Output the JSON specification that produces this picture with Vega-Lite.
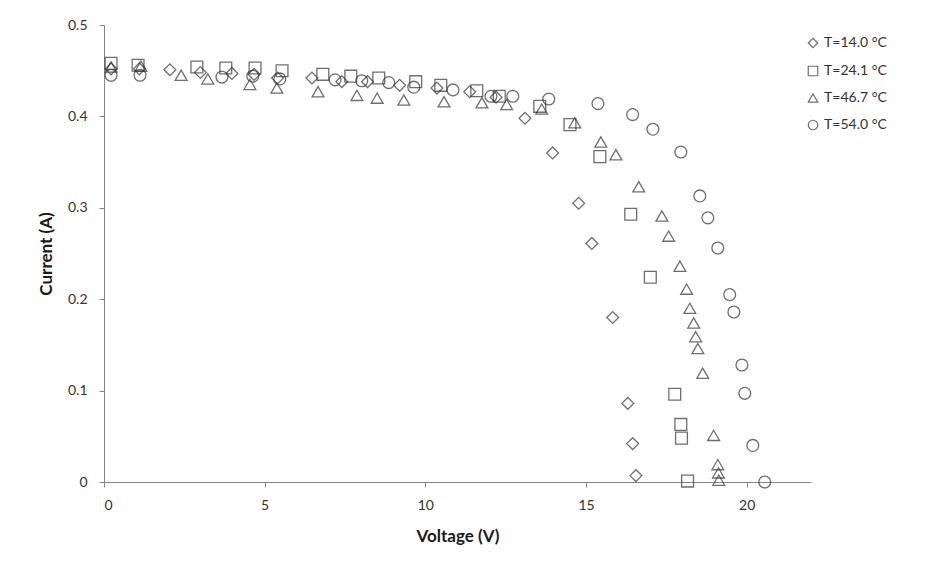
{
  "$schema": "https://vega.github.io/schema/vega-lite/v6.json",
  "width": 707,
  "height": 457,
  "autosize": "none",
  "padding": {"left": 104, "top": 25, "right": 129, "bottom": 89},
  "background": "white",
  "config": {
    "view": {"stroke": null},
    "font": "Lato",
    "axis": {
      "grid": false,
      "domainColor": "#868686",
      "tickColor": "#868686",
      "tickSize": 5,
      "labelFont": "Lato",
      "labelFontSize": 14,
      "labelColor": "#333333",
      "titleFont": "Lato",
      "titleFontSize": 17,
      "titleFontWeight": "bold",
      "titleColor": "#1a1a1a"
    },
    "legend": {
      "labelFont": "Lato",
      "labelFontSize": 14,
      "labelColor": "#333333"
    }
  },
  "data": {
    "values": [
      {"T": "T=14.0 °C", "V": 0.22, "I": 0.452},
      {"T": "T=14.0 °C", "V": 1.1, "I": 0.452},
      {"T": "T=14.0 °C", "V": 2.05, "I": 0.451},
      {"T": "T=14.0 °C", "V": 3.0, "I": 0.448},
      {"T": "T=14.0 °C", "V": 3.98, "I": 0.447},
      {"T": "T=14.0 °C", "V": 4.67, "I": 0.446},
      {"T": "T=14.0 °C", "V": 5.4, "I": 0.442},
      {"T": "T=14.0 °C", "V": 6.47, "I": 0.442},
      {"T": "T=14.0 °C", "V": 7.4, "I": 0.438},
      {"T": "T=14.0 °C", "V": 8.2, "I": 0.438},
      {"T": "T=14.0 °C", "V": 9.2, "I": 0.434},
      {"T": "T=14.0 °C", "V": 10.36, "I": 0.431},
      {"T": "T=14.0 °C", "V": 11.38, "I": 0.427},
      {"T": "T=14.0 °C", "V": 12.2, "I": 0.421},
      {"T": "T=14.0 °C", "V": 13.1, "I": 0.398},
      {"T": "T=14.0 °C", "V": 13.96, "I": 0.36},
      {"T": "T=14.0 °C", "V": 14.77, "I": 0.305},
      {"T": "T=14.0 °C", "V": 15.18, "I": 0.261},
      {"T": "T=14.0 °C", "V": 15.83, "I": 0.18},
      {"T": "T=14.0 °C", "V": 16.3, "I": 0.086},
      {"T": "T=14.0 °C", "V": 16.45, "I": 0.042},
      {"T": "T=14.0 °C", "V": 16.55, "I": 0.007},

      {"T": "T=24.1 °C", "V": 0.22, "I": 0.458},
      {"T": "T=24.1 °C", "V": 1.06, "I": 0.456},
      {"T": "T=24.1 °C", "V": 2.89, "I": 0.454},
      {"T": "T=24.1 °C", "V": 3.79, "I": 0.453},
      {"T": "T=24.1 °C", "V": 4.7, "I": 0.453},
      {"T": "T=24.1 °C", "V": 5.54, "I": 0.45},
      {"T": "T=24.1 °C", "V": 6.81, "I": 0.446},
      {"T": "T=24.1 °C", "V": 7.68, "I": 0.444},
      {"T": "T=24.1 °C", "V": 8.55, "I": 0.442},
      {"T": "T=24.1 °C", "V": 9.7, "I": 0.438},
      {"T": "T=24.1 °C", "V": 10.48, "I": 0.434},
      {"T": "T=24.1 °C", "V": 11.6, "I": 0.428},
      {"T": "T=24.1 °C", "V": 12.3, "I": 0.422},
      {"T": "T=24.1 °C", "V": 13.56, "I": 0.411},
      {"T": "T=24.1 °C", "V": 14.5, "I": 0.391},
      {"T": "T=24.1 °C", "V": 15.43, "I": 0.356},
      {"T": "T=24.1 °C", "V": 16.39, "I": 0.293},
      {"T": "T=24.1 °C", "V": 17.0, "I": 0.224},
      {"T": "T=24.1 °C", "V": 17.76, "I": 0.096},
      {"T": "T=24.1 °C", "V": 17.95, "I": 0.063},
      {"T": "T=24.1 °C", "V": 17.97, "I": 0.048},
      {"T": "T=24.1 °C", "V": 18.16, "I": 0.001},

      {"T": "T=46.7 °C", "V": 0.22, "I": 0.454},
      {"T": "T=46.7 °C", "V": 1.15, "I": 0.455},
      {"T": "T=46.7 °C", "V": 2.4, "I": 0.445},
      {"T": "T=46.7 °C", "V": 3.23, "I": 0.441},
      {"T": "T=46.7 °C", "V": 4.54, "I": 0.435},
      {"T": "T=46.7 °C", "V": 5.38, "I": 0.431},
      {"T": "T=46.7 °C", "V": 6.66, "I": 0.427},
      {"T": "T=46.7 °C", "V": 7.87, "I": 0.423},
      {"T": "T=46.7 °C", "V": 8.5, "I": 0.42},
      {"T": "T=46.7 °C", "V": 9.33, "I": 0.418},
      {"T": "T=46.7 °C", "V": 10.58, "I": 0.416},
      {"T": "T=46.7 °C", "V": 11.76, "I": 0.415},
      {"T": "T=46.7 °C", "V": 12.53, "I": 0.413},
      {"T": "T=46.7 °C", "V": 13.62, "I": 0.408},
      {"T": "T=46.7 °C", "V": 14.65, "I": 0.393},
      {"T": "T=46.7 °C", "V": 15.46, "I": 0.372},
      {"T": "T=46.7 °C", "V": 15.93, "I": 0.358},
      {"T": "T=46.7 °C", "V": 16.64, "I": 0.323},
      {"T": "T=46.7 °C", "V": 17.36, "I": 0.291},
      {"T": "T=46.7 °C", "V": 17.57, "I": 0.269},
      {"T": "T=46.7 °C", "V": 17.92, "I": 0.236},
      {"T": "T=46.7 °C", "V": 18.13, "I": 0.211},
      {"T": "T=46.7 °C", "V": 18.23, "I": 0.19},
      {"T": "T=46.7 °C", "V": 18.35, "I": 0.174},
      {"T": "T=46.7 °C", "V": 18.41, "I": 0.159},
      {"T": "T=46.7 °C", "V": 18.48, "I": 0.146},
      {"T": "T=46.7 °C", "V": 18.63, "I": 0.119},
      {"T": "T=46.7 °C", "V": 18.97, "I": 0.051},
      {"T": "T=46.7 °C", "V": 19.1, "I": 0.019},
      {"T": "T=46.7 °C", "V": 19.12, "I": 0.01},
      {"T": "T=46.7 °C", "V": 19.13, "I": 0.002},

      {"T": "T=54.0 °C", "V": 0.22, "I": 0.445},
      {"T": "T=54.0 °C", "V": 1.12, "I": 0.445},
      {"T": "T=54.0 °C", "V": 3.67, "I": 0.443},
      {"T": "T=54.0 °C", "V": 4.63, "I": 0.444},
      {"T": "T=54.0 °C", "V": 5.47, "I": 0.441},
      {"T": "T=54.0 °C", "V": 7.19, "I": 0.44},
      {"T": "T=54.0 °C", "V": 8.02, "I": 0.439},
      {"T": "T=54.0 °C", "V": 8.86, "I": 0.437},
      {"T": "T=54.0 °C", "V": 9.64, "I": 0.432},
      {"T": "T=54.0 °C", "V": 10.86, "I": 0.429},
      {"T": "T=54.0 °C", "V": 12.04, "I": 0.422},
      {"T": "T=54.0 °C", "V": 12.72, "I": 0.422},
      {"T": "T=54.0 °C", "V": 13.84, "I": 0.419},
      {"T": "T=54.0 °C", "V": 15.37, "I": 0.414},
      {"T": "T=54.0 °C", "V": 16.45, "I": 0.402},
      {"T": "T=54.0 °C", "V": 17.08, "I": 0.386},
      {"T": "T=54.0 °C", "V": 17.95, "I": 0.361},
      {"T": "T=54.0 °C", "V": 18.54, "I": 0.313},
      {"T": "T=54.0 °C", "V": 18.79, "I": 0.289},
      {"T": "T=54.0 °C", "V": 19.1, "I": 0.256},
      {"T": "T=54.0 °C", "V": 19.47, "I": 0.205},
      {"T": "T=54.0 °C", "V": 19.6, "I": 0.186},
      {"T": "T=54.0 °C", "V": 19.85, "I": 0.128},
      {"T": "T=54.0 °C", "V": 19.94, "I": 0.097},
      {"T": "T=54.0 °C", "V": 20.19, "I": 0.04},
      {"T": "T=54.0 °C", "V": 20.56, "I": 0.0}
    ]
  },
  "mark": {"type": "point", "filled": false, "stroke": "#333333", "strokeWidth": 1.3, "size": 140, "clip": false},
  "encoding": {
    "x": {
      "field": "V",
      "type": "quantitative",
      "title": "Voltage (V)",
      "scale": {"domain": [0, 22], "nice": false, "zero": true},
      "axis": {"values": [0, 5, 10, 15, 20], "labelPadding": 11, "titlePadding": 16, "format": "d"}
    },
    "y": {
      "field": "I",
      "type": "quantitative",
      "title": "Current (A)",
      "scale": {"domain": [0, 0.5], "nice": false},
      "axis": {"values": [0, 0.1, 0.2, 0.3, 0.4, 0.5], "format": ".1~f", "labelPadding": 12, "titlePadding": 12}
    },
    "shape": {
      "field": "T",
      "type": "nominal",
      "title": null,
      "sort": ["T=14.0 °C", "T=24.1 °C", "T=46.7 °C", "T=54.0 °C"],
      "scale": {
        "domain": ["T=14.0 °C", "T=24.1 °C", "T=46.7 °C", "T=54.0 °C"],
        "range": ["diamond", "square", "triangle-up", "circle"]
      },
      "legend": {
        "orient": "none",
        "legendX": 702,
        "legendY": 11,
        "symbolSize": 90,
        "symbolStrokeColor": "#333333",
        "symbolFillColor": "transparent",
        "symbolStrokeWidth": 1.2,
        "labelOffset": 4,
        "rowPadding": 12
      }
    }
  }
}
